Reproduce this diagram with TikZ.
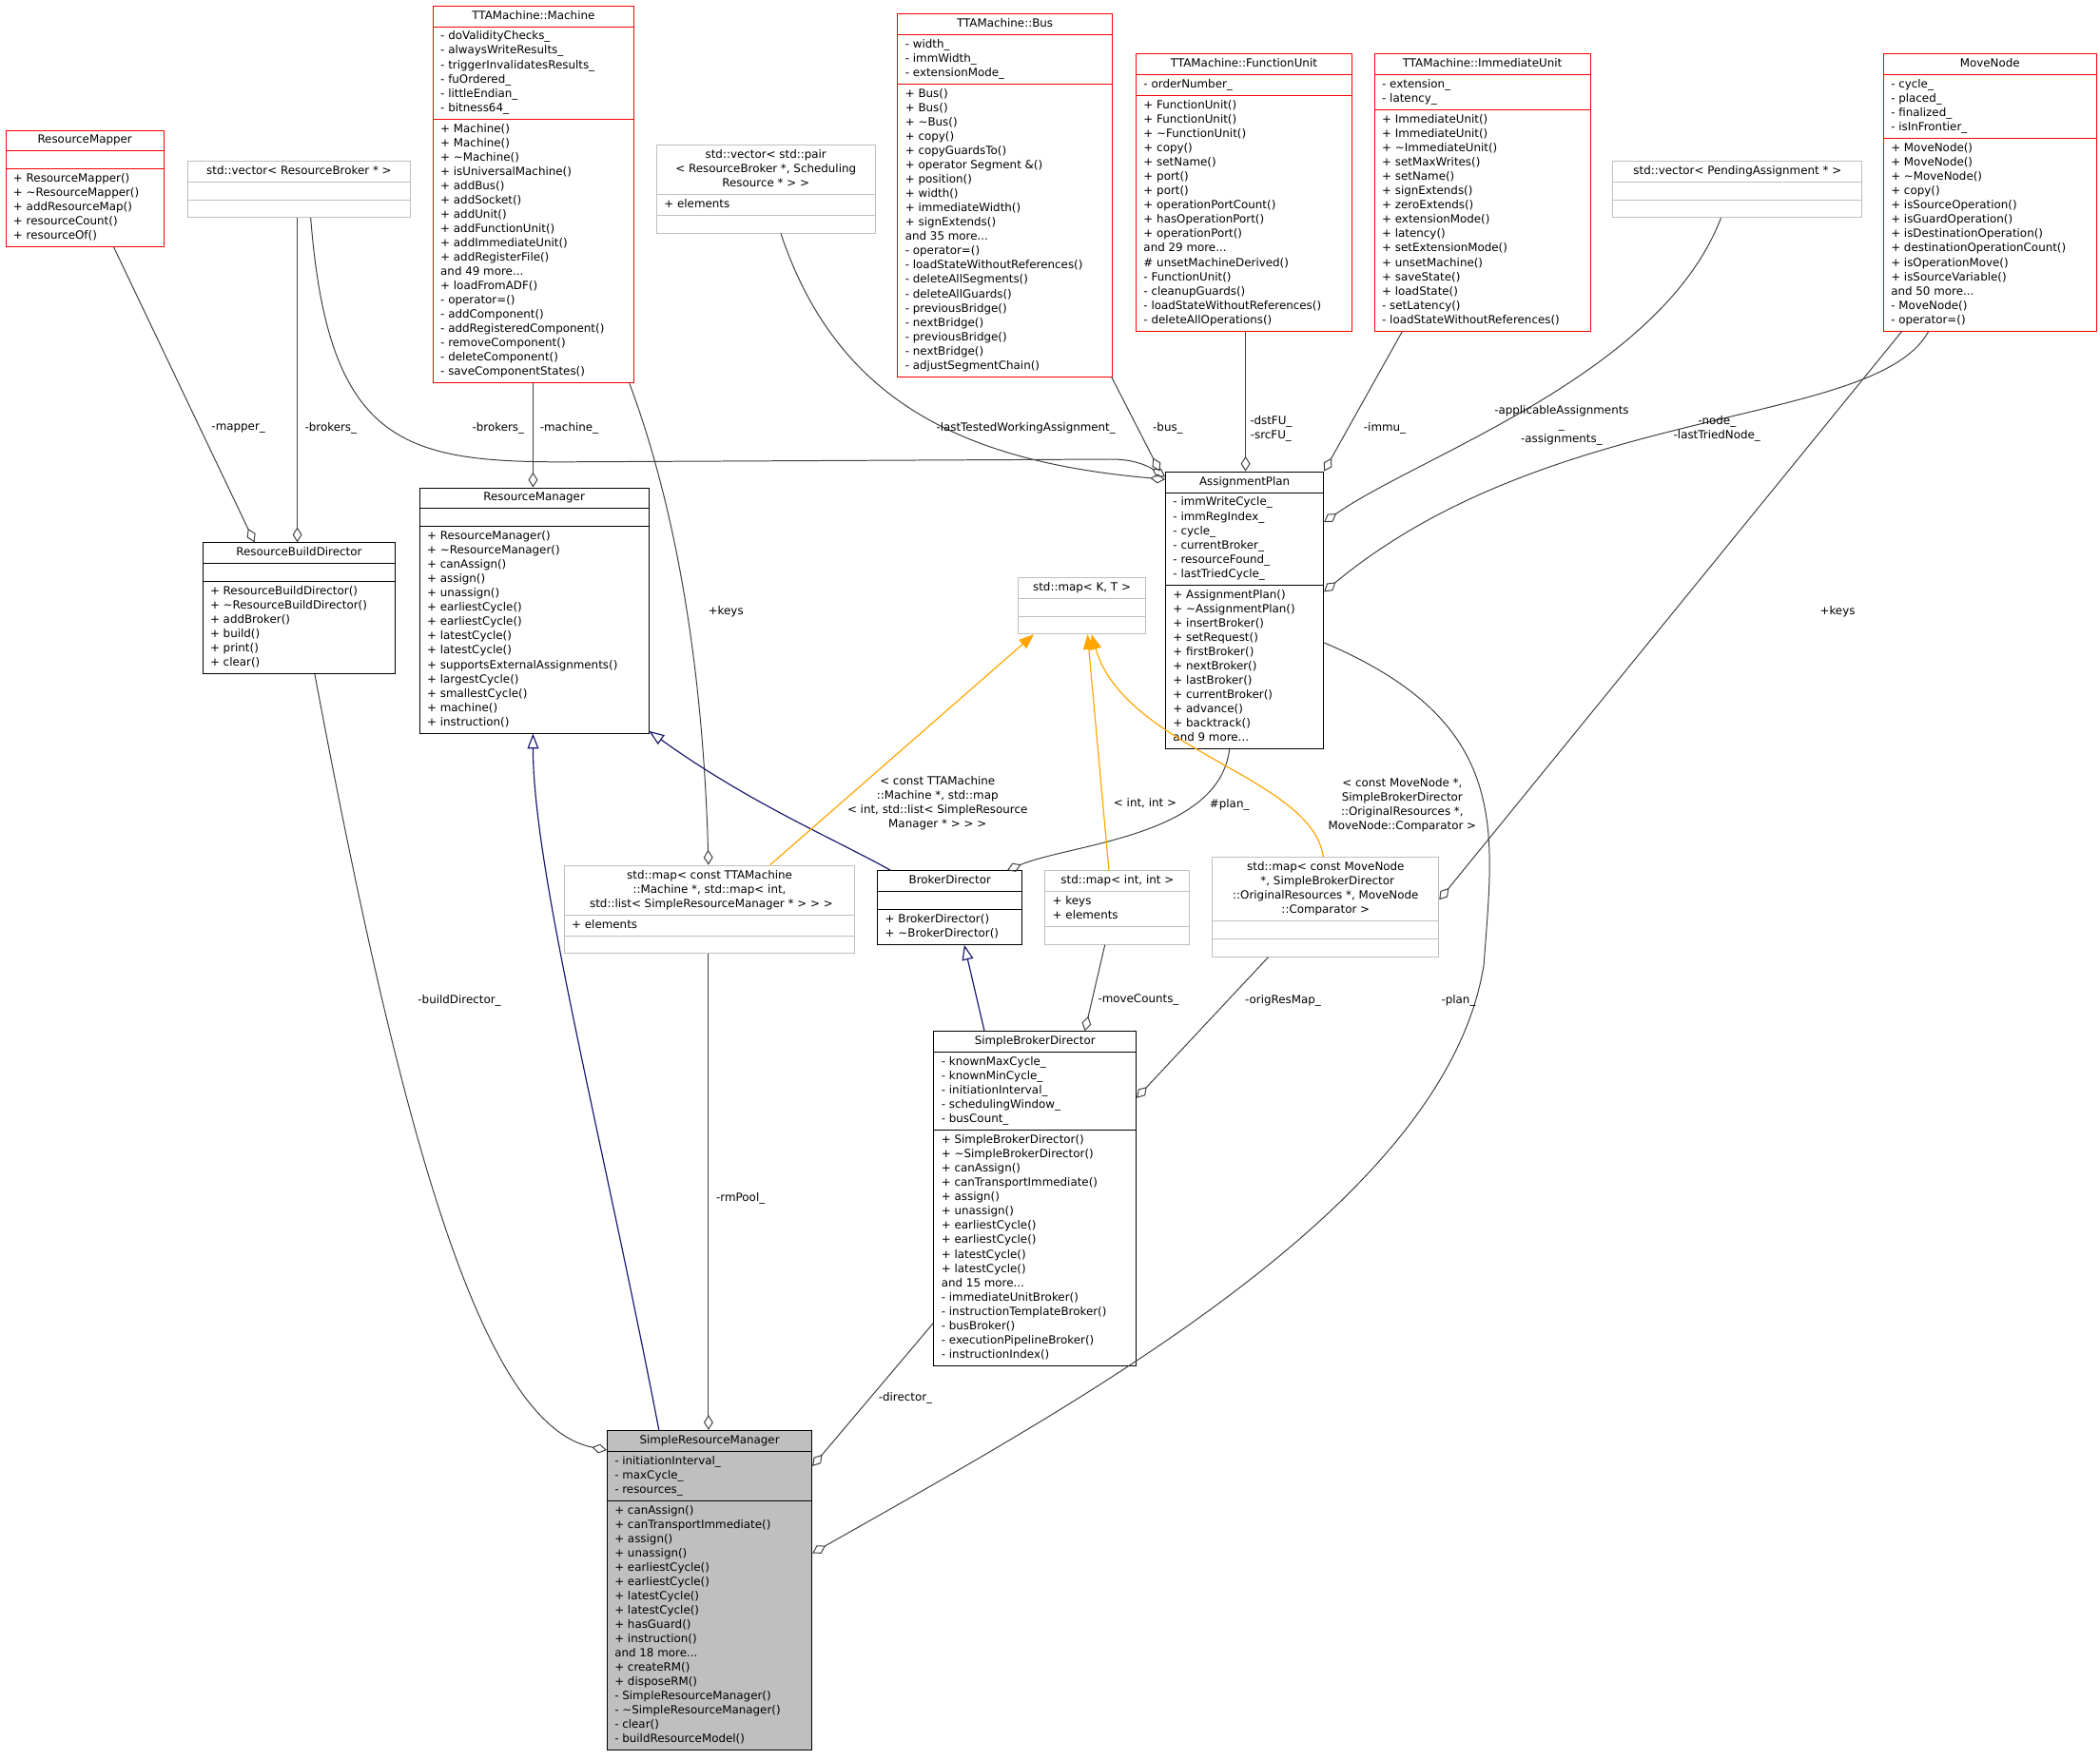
\documentclass[tikz,border=0pt]{standalone}
\usepackage{fontspec}
\setmainfont{DejaVu Sans}
\usetikzlibrary{shapes.multipart,arrows.meta,calc}
\definecolor{edgec}{HTML}{404040}
\definecolor{inhc}{HTML}{191970}
\definecolor{grayb}{HTML}{BFBFBF}
\definecolor{tmplc}{HTML}{FFA500}
\newcommand{\ttl}[1]{\begin{tabular}{@{}c@{}}#1\end{tabular}}
\newcommand{\mem}[1]{\begin{tabular}{@{}l@{}}#1\end{tabular}}
\tikzset{
  cls/.style={draw=#1, rectangle split, rectangle split parts=3,
    rectangle split part align={center,left,left}, anchor=north west,
    inner xsep=4pt, inner ysep=1.5pt, rectangle split empty part height=6pt,
    font=\fontsize{6}{7.6}\selectfont, fill=white, line width=0.45pt},
  boxw/.style={minimum width=#1*0.025cm},
  comp/.style={draw=edgec, line width=0.5pt, -{Diamond[open,length=8pt,width=5pt]}},
  inh/.style={draw=inhc, line width=0.6pt, -{Triangle[open,length=8pt,width=6pt]}},
  tmpl/.style={draw=tmplc, line width=0.6pt, -{Triangle[length=8pt,width=6pt]}},
  lbl/.style={font=\fontsize{6}{7.6}\selectfont, align=center, inner sep=1pt}
}
\begin{document}
\begin{tikzpicture}[x=0.025cm,y=-0.025cm]
\useasboundingbox[fill=white] (0,0) rectangle (1568,1314);
% classes on top row
\node[cls=red,boxw=118] (mapper) at (4,97) {\ttl{ResourceMapper}\nodepart{second}\nodepart{third}\mem{+ ResourceMapper()\\+ \textasciitilde ResourceMapper()\\+ addResourceMap()\\+ resourceCount()\\+ resourceOf()}};
\node[cls=grayb,boxw=166] (vrb) at (140,120) {\ttl{std::vector< ResourceBroker * >}\nodepart{second}\nodepart{third}};
\node[cls=red,boxw=150] (machine) at (323,4) {\ttl{TTAMachine::Machine}\nodepart{second}\mem{- doValidityChecks\_\\- alwaysWriteResults\_\\- triggerInvalidatesResults\_\\- fuOrdered\_\\- littleEndian\_\\- bitness64\_}\nodepart{third}\mem{+ Machine()\\+ Machine()\\+ \textasciitilde Machine()\\+ isUniversalMachine()\\+ addBus()\\+ addSocket()\\+ addUnit()\\+ addFunctionUnit()\\+ addImmediateUnit()\\+ addRegisterFile()\\and 49 more...\\+ loadFromADF()\\- operator=()\\- addComponent()\\- addRegisteredComponent()\\- removeComponent()\\- deleteComponent()\\- saveComponentStates()}};
\node[cls=grayb,boxw=163] (vpair) at (490,108) {\ttl{std::vector< std::pair\\< ResourceBroker *, Scheduling\\Resource * > >}\nodepart{second}\mem{+ elements}\nodepart{third}};
\node[cls=red,boxw=160] (bus) at (670,10) {\ttl{TTAMachine::Bus}\nodepart{second}\mem{- width\_\\- immWidth\_\\- extensionMode\_}\nodepart{third}\mem{+ Bus()\\+ Bus()\\+ \textasciitilde Bus()\\+ copy()\\+ copyGuardsTo()\\+ operator Segment \&()\\+ position()\\+ width()\\+ immediateWidth()\\+ signExtends()\\and 35 more...\\- operator=()\\- loadStateWithoutReferences()\\- deleteAllSegments()\\- deleteAllGuards()\\- previousBridge()\\- nextBridge()\\- previousBridge()\\- nextBridge()\\- adjustSegmentChain()}};
\node[cls=red,boxw=161] (fu) at (848,40) {\ttl{TTAMachine::FunctionUnit}\nodepart{second}\mem{- orderNumber\_}\nodepart{third}\mem{+ FunctionUnit()\\+ FunctionUnit()\\+ \textasciitilde FunctionUnit()\\+ copy()\\+ setName()\\+ port()\\+ port()\\+ operationPortCount()\\+ hasOperationPort()\\+ operationPort()\\and 29 more...\\\# unsetMachineDerived()\\- FunctionUnit()\\- cleanupGuards()\\- loadStateWithoutReferences()\\- deleteAllOperations()}};
\node[cls=red,boxw=161] (iu) at (1026,40) {\ttl{TTAMachine::ImmediateUnit}\nodepart{second}\mem{- extension\_\\- latency\_}\nodepart{third}\mem{+ ImmediateUnit()\\+ ImmediateUnit()\\+ \textasciitilde ImmediateUnit()\\+ setMaxWrites()\\+ setName()\\+ signExtends()\\+ zeroExtends()\\+ extensionMode()\\+ latency()\\+ setExtensionMode()\\+ unsetMachine()\\+ saveState()\\+ loadState()\\- setLatency()\\- loadStateWithoutReferences()}};
\node[cls=grayb,boxw=186] (vpend) at (1204,120) {\ttl{std::vector< PendingAssignment * >}\nodepart{second}\nodepart{third}};
\node[cls=red,boxw=159] (mn) at (1406,40) {\ttl{MoveNode}\nodepart{second}\mem{- cycle\_\\- placed\_\\- finalized\_\\- isInFrontier\_}\nodepart{third}\mem{+ MoveNode()\\+ MoveNode()\\+ \textasciitilde MoveNode()\\+ copy()\\+ isSourceOperation()\\+ isGuardOperation()\\+ isDestinationOperation()\\+ destinationOperationCount()\\+ isOperationMove()\\+ isSourceVariable()\\and 50 more...\\- MoveNode()\\- operator=()}};
% middle row
\node[cls=black,boxw=144] (rbd) at (151,405) {\ttl{ResourceBuildDirector}\nodepart{second}\nodepart{third}\mem{+ ResourceBuildDirector()\\+ \textasciitilde ResourceBuildDirector()\\+ addBroker()\\+ build()\\+ print()\\+ clear()}};
\node[cls=black,boxw=171] (rm) at (313,364) {\ttl{ResourceManager}\nodepart{second}\nodepart{third}\mem{+ ResourceManager()\\+ \textasciitilde ResourceManager()\\+ canAssign()\\+ assign()\\+ unassign()\\+ earliestCycle()\\+ earliestCycle()\\+ latestCycle()\\+ latestCycle()\\+ supportsExternalAssignments()\\+ largestCycle()\\+ smallestCycle()\\+ machine()\\+ instruction()}};
\node[cls=grayb,boxw=95] (mapKT) at (760,431) {\ttl{std::map< K, T >}\nodepart{second}\nodepart{third}};
\node[cls=black,boxw=118] (ap) at (870,352) {\ttl{AssignmentPlan}\nodepart{second}\mem{- immWriteCycle\_\\- immRegIndex\_\\- cycle\_\\- currentBroker\_\\- resourceFound\_\\- lastTriedCycle\_}\nodepart{third}\mem{+ AssignmentPlan()\\+ \textasciitilde AssignmentPlan()\\+ insertBroker()\\+ setRequest()\\+ firstBroker()\\+ nextBroker()\\+ lastBroker()\\+ currentBroker()\\+ advance()\\+ backtrack()\\and 9 more...}};
\node[cls=grayb,boxw=217] (mapM) at (421,646) {\ttl{std::map< const TTAMachine\\::Machine *, std::map< int,\\{} std::list< SimpleResourceManager * > > >}\nodepart{second}\mem{+ elements}\nodepart{third}};
\node[cls=black,boxw=108] (bd) at (655,650) {\ttl{BrokerDirector}\nodepart{second}\nodepart{third}\mem{+ BrokerDirector()\\+ \textasciitilde BrokerDirector()}};
\node[cls=grayb,boxw=108] (mapII) at (780,650) {\ttl{std::map< int, int >}\nodepart{second}\mem{+ keys\\+ elements}\nodepart{third}};
\node[cls=grayb,boxw=169] (mapMN) at (905,640) {\ttl{std::map< const MoveNode\\{} *, SimpleBrokerDirector\\::OriginalResources *, MoveNode\\::Comparator >}\nodepart{second}\nodepart{third}};
\node[cls=black,boxw=151] (sbd) at (697,770) {\ttl{SimpleBrokerDirector}\nodepart{second}\mem{- knownMaxCycle\_\\- knownMinCycle\_\\- initiationInterval\_\\- schedulingWindow\_\\- busCount\_}\nodepart{third}\mem{+ SimpleBrokerDirector()\\+ \textasciitilde SimpleBrokerDirector()\\+ canAssign()\\+ canTransportImmediate()\\+ assign()\\+ unassign()\\+ earliestCycle()\\+ earliestCycle()\\+ latestCycle()\\+ latestCycle()\\and 15 more...\\- immediateUnitBroker()\\- instructionTemplateBroker()\\- busBroker()\\- executionPipelineBroker()\\- instructionIndex()}};
\node[cls=black,boxw=153,fill=grayb] (srm) at (453,1068) {\ttl{SimpleResourceManager}\nodepart{second}\mem{- initiationInterval\_\\- maxCycle\_\\- resources\_}\nodepart{third}\mem{+ canAssign()\\+ canTransportImmediate()\\+ assign()\\+ unassign()\\+ earliestCycle()\\+ earliestCycle()\\+ latestCycle()\\+ latestCycle()\\+ hasGuard()\\+ instruction()\\and 18 more...\\+ createRM()\\+ disposeRM()\\- SimpleResourceManager()\\- \textasciitilde SimpleResourceManager()\\- clear()\\- buildResourceModel()}};
% usage connectors
\draw[comp] (mapper.south -| 85,0) -- (rbd.north -| 190,0);
\draw[comp] (vrb.south -| 222,0) -- (rbd.north -| 222,0);
\draw[comp] (vrb.south -| 232,0) .. controls (245,330) and (300,345) .. (420,345) -- (830,343) .. controls (850,343) and (860,350) .. (ap.west |- 0,356);
\draw[comp] (machine.south -| 398,0) -- (rm.north -| 398,0);
\draw[comp] (machine.south -| 470,0) .. controls (505,380) and (525,500) .. (mapM.north -| 529,0);
\draw[comp] (vpair.south -| 583,0) .. controls (625,300) and (720,345) .. (ap.west |- 0,358);
\draw[comp] (bus.south -| 830,0) -- (ap.north -| 866,0);
\draw[comp] (fu.south -| 930,0) -- (ap.north -| 930,0);
\draw[comp] (iu.south -| 1047,0) -- (ap.north east);
\draw[comp] (vpend.south -| 1285,0) .. controls (1240,280) and (1060,340) .. (ap.east |- 0,390);
\draw[comp] (mn.south -| 1440,0) .. controls (1400,320) and (1160,300) .. (ap.east |- 0,442);
\draw[comp] (mn.south -| 1420,0) -- (mapMN.east |- 0,672);
\draw[comp] (ap.east |- 0,480) .. controls (1130,540) and (1115,620) .. (1108,720) .. controls (1080,900) and (800,1050) .. (srm.east |- 0,1160);
\draw[comp] (ap.south -| 918,0) .. controls (910,625) and (800,630) .. (bd.north -| 752,0);
\draw[comp] (rbd.south -| 235,0) .. controls (300,850) and (360,1065) .. (srm.west |- 0,1083);
\draw[comp] (mapM.south -| 529,0) -- (srm.north -| 529,0);
\draw[comp] (mapII.south -| 825,0) -- (sbd.north -| 810,0);
\draw[comp] (mapMN.south -| 947,0) -- (sbd.east |- 0,820);
\draw[comp] (sbd.west |- 0,988) -- (srm.east |- 0,1095);
% inheritance
\draw[inh] (srm.north -| 492,0) .. controls (450,850) and (398,650) .. (rm.south -| 398,0);
\draw[inh] (bd.north -| 665,0) .. controls (620,625) and (560,600) .. (rm.east |- 0,546);
\draw[inh] (sbd.north -| 735,0) -- (bd.south -| 720,0);
% template instances
\draw[tmpl] (mapM.north -| 575,0) -- (mapKT.south -| 772,0);
\draw[tmpl] (mapII.north -| 828,0) -- (mapKT.south -| 812,0);
\draw[tmpl] (mapMN.north -| 988,0) .. controls (980,580) and (840,560) .. (mapKT.south -| 815,0);
% labels
\node[lbl] (lmapper) at (178,320) {-mapper\_};
\node[lbl] (lbrk1) at (247,320) {-brokers\_};
\node[lbl] (lbrk2) at (372,320) {-brokers\_};
\node[lbl] (lmach) at (425,320) {-machine\_};
\node[lbl] (lkeys1) at (542,457) {+keys};
\node[lbl] (ltested) at (766,320) {-lastTestedWorkingAssignment\_};
\node[lbl] (lbus) at (872,320) {-bus\_};
\node[lbl] (lfu) at (949,320) {-dstFU\_\\-srcFU\_};
\node[lbl] (limmu) at (1034,320) {-immu\_};
\node[lbl] (lassign) at (1166,318) {-applicableAssignments\\\_\\-assignments\_};
\node[lbl] (lnode) at (1282,320) {-node\_\\-lastTriedNode\_};
\node[lbl] (lkeys2) at (1372,457) {+keys};
\node[lbl] (lplan) at (918,601) {\#plan\_};
\node[lbl] (ltmplM) at (700,600) {< const TTAMachine\\::Machine *, std::map\\< int, std::list< SimpleResource\\Manager * > > >};
\node[lbl] (ltmplI) at (855,600) {< int, int >};
\node[lbl] (ltmplMN) at (1047,601) {< const MoveNode *,\\SimpleBrokerDirector\\::OriginalResources *,\\MoveNode::Comparator >};
\node[lbl] (lbuild) at (343,747) {-buildDirector\_};
\node[lbl] (lrmpool) at (553,895) {-rmPool\_};
\node[lbl] (lmoves) at (850,747) {-moveCounts\_};
\node[lbl] (lorig) at (958,747) {-origResMap\_};
\node[lbl] (lplan2) at (1089,747) {-plan\_};
\node[lbl] (ldir) at (676,1044) {-director\_};
\end{tikzpicture}
\end{document}
